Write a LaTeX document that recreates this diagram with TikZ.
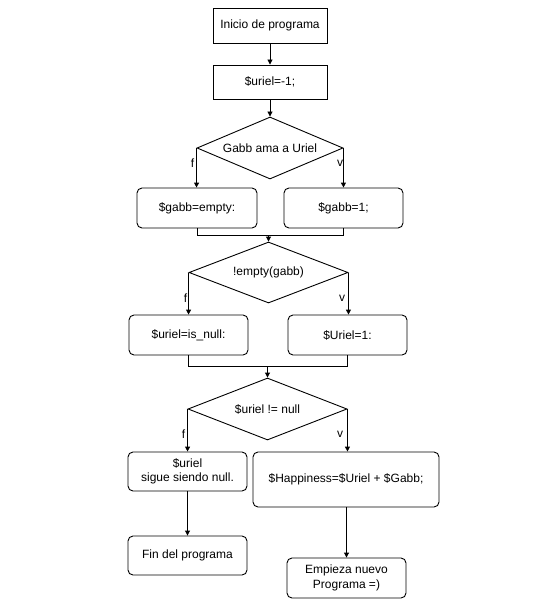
\documentclass[tikz,border=0pt]{standalone}
\usepackage{fontspec}
\setmainfont{Liberation Sans}
\usetikzlibrary{shapes.geometric,arrows.meta}
\begin{document}
\begin{tikzpicture}[x=1pt,y=-1pt,
  every node/.style={font=\fontsize{12}{14.5}\selectfont},
  line width=0.9pt,
  sqbox/.style={draw,rectangle,inner sep=0pt,align=center},
  rbox/.style={draw,rectangle,rounded corners=5pt,inner sep=0pt,align=center},
  dec/.style={draw,diamond,inner sep=0pt,aspect=2.4},
  arr/.style={-{Triangle[length=5pt,width=5pt]}},
  lbl/.style={inner sep=0pt}]
\useasboundingbox (0,0) rectangle (550,604);
\fill[white] (0,0) rectangle (550,604);
% nodes
\node[sqbox,minimum width=114pt,minimum height=35pt] (b1) at (270,25.5) {Inicio de programa};
\node[sqbox,minimum width=114pt,minimum height=34pt] (b2) at (270,82) {\$uriel=-1;};
\node[dec,minimum width=146pt,minimum height=62pt] (d1) at (270,148) {Gabb ama a Uriel};
\node[rbox,minimum width=120pt,minimum height=40pt] (b3) at (197,208) {\$gabb=empty:};
\node[rbox,minimum width=119pt,minimum height=40pt] (b4) at (343.5,208) {\$gabb=1;};
\node[dec,minimum width=159pt,minimum height=61pt] (d2) at (268.5,272.5) {!empty(gabb)};
\node[rbox,minimum width=119pt,minimum height=40pt] (b5) at (188.5,335) {\$uriel=is\_null:};
\node[rbox,minimum width=119pt,minimum height=40pt] (b6) at (347.5,335) {\$Uriel=1:};
\node[dec,minimum width=159pt,minimum height=62pt] (d3) at (267.5,409) {\$uriel != null};
\node[rbox,minimum width=119pt,minimum height=39pt] (b7) at (187.5,471.5) {\$uriel\\sigue siendo null.};
\node[rbox,minimum width=186pt,minimum height=55pt] (b8) at (346,479.5) {\$Happiness=\$Uriel + \$Gabb;};
\node[rbox,minimum width=119pt,minimum height=39pt] (b9) at (187.5,555.5) {Fin del programa};
\node[rbox,minimum width=119pt,minimum height=40pt] (b10) at (346.5,578) {Empieza nuevo\\Programa =)};
% merge coordinates
\coordinate (m1) at (269,235);
\coordinate (m2) at (267,366);
% connectors
\draw[arr] (b1) -- (b2);
\draw[arr] (b2) -- (d1);
\draw[arr] (d1.west) -- (d1.west |- b3.north);
\draw[arr] (d1.east) -- (d1.east |- b4.north);
\draw (b3.south) |- (b4.south |- m1) -- (b4.south);
\draw[arr] (d2.north |- m1) -- (d2.north);
\draw[arr] (d2.west) -- (d2.west |- b5.north);
\draw[arr] (d2.east) -- (d2.east |- b6.north);
\draw (b5.south) |- (b6.south |- m2) -- (b6.south);
\draw[arr] (d3.north |- m2) -- (d3.north);
\draw[arr] (d3.west) -- (d3.west |- b7.north);
\draw[arr] (d3.east) -- (d3.east |- b8.north);
\draw[arr] (b7) -- (b9);
\draw[arr] (b8.south -| b10.north) -- (b10.north);
% labels
\node[lbl] (f1) at (192.5,163) {f};
\node[lbl] (v1) at (340,163) {v};
\node[lbl] (f2) at (185.5,298) {f};
\node[lbl] (v2) at (342,298) {v};
\node[lbl] (f3) at (183.5,434) {f};
\node[lbl] (v3) at (340,434) {v};
\end{tikzpicture}
\end{document}
